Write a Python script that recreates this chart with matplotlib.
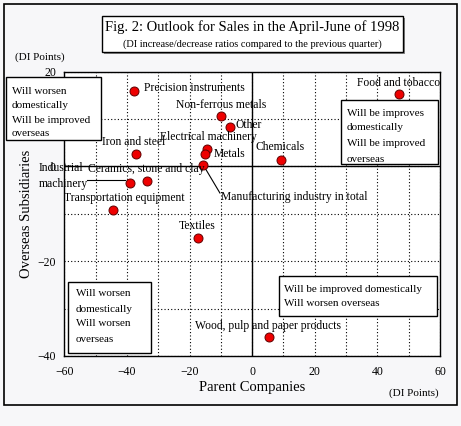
import matplotlib
matplotlib.use('Agg')
import matplotlib.pyplot as plt
from matplotlib.patches import Rectangle
from matplotlib.lines import Line2D

plt.rcParams['font.family'] = ['Liberation Serif', 'DejaVu Serif']

# data
industries = ['Precision instruments', 'Food and tobacco', 'Non-ferrous metals', 'Other',
              'Electrical machinery', 'Metals', 'Iron and steel', 'Chemicals',
              'Manufacturing industry in total', 'Industrial\nmachinery',
              'Ceramics, stone and clay', 'Transportation equipment', 'Textiles',
              'Wood, pulp and paper products']
parent = [-37.7, 46.9, -10.0, -7.1, -14.4, -15.0, -37.0, 9.1, -15.7, -38.9, -33.5, -44.6, -17.2, 5.4]
overseas = [16.0, 15.2, 10.6, 8.3, 3.7, 2.6, 2.6, 1.3, 0.4, -3.5, -3.1, -9.2, -15.2, -36.0]

# label anchor (left, centre) in data units
label_x = [-34.5, 33.6, -24.4, -5.4, -29.4, -12.3, -47.9, 1.1, -10.1, -68.1, -52.3, -60.0, -23.4, -18.3]
label_y = [16.6, 17.7, 13.0, 8.8, 6.2, 2.6, 5.2, 4.1, -6.4, -2.0, -0.6, -6.7, -12.6, -33.6]

x_ticks = [-60, -40, -20, 0, 20, 40, 60]
y_ticks = [-40, -20, 0, 20]

W, H = 461, 426
bg = '#f7f7f9'

def fx(px):
    return px / W

def fy(py):
    return 1 - py / H

fig = plt.figure(figsize=(W / 100, H / 100), dpi=100, facecolor=bg)

# outer frame
fig.patches.append(Rectangle((fx(4), fy(405)), fx(453), (405 - 4) / H, transform=fig.transFigure,
                             fill=False, edgecolor='black', linewidth=1.2))

ax = fig.add_axes([fx(64.3), fy(356), (440 - 64.3) / W, (356 - 71.7) / H])
ax.set_facecolor('white')
ax.set_xlim(-60, 60)
ax.set_ylim(-40, 20)
ax.set_xticks(x_ticks)
ax.set_yticks(y_ticks)
ax.set_xticks(range(-50, 60, 10), minor=True)
ax.set_yticks(range(-30, 20, 10), minor=True)
ax.tick_params(which='both', length=0, labelsize=8.5)
ax.tick_params(axis='x', pad=7)
ax.tick_params(axis='y', pad=6)
ax.grid(which='both', color='black', linestyle=(0, (1, 2)), linewidth=0.8)
ax.axhline(0, color='black', linewidth=1)
ax.axvline(0, color='black', linewidth=1)
for s in ax.spines.values():
    s.set_linewidth(1)

ax.scatter(parent, overseas, s=42, color='#ee0000', edgecolor='#600000', linewidth=0.7, zorder=5)

for name, lx, ly in zip(industries, label_x, label_y):
    ax.text(lx, ly, name, fontsize=8.4, ha='left', va='center', clip_on=False, zorder=6,
            linespacing=1.4)

# leader lines
ax.add_line(Line2D([-52.7, -40.6], [-2.85, -2.85], color='black', linewidth=0.8, clip_on=False))
ax.add_line(Line2D([-15.7, -10.3], [0.4, -5.6], color='black', linewidth=0.8, clip_on=False))

ax.set_xlabel('Parent Companies', fontsize=10.5, labelpad=2)
ax.set_ylabel('Overseas Subsidiaries', fontsize=10.5, labelpad=3)

fig.text(fx(15), fy(57), '(DI Points)', fontsize=8, ha='left', va='center')
fig.text(fx(439), fy(393), '(DI Points)', fontsize=8, ha='right', va='center')

# title box with shadow
fig.patches.append(Rectangle((fx(104), fy(54)), (403 - 102) / W, (52 - 16) / H, transform=fig.transFigure,
                             facecolor='#888888', edgecolor='none'))
fig.patches.append(Rectangle((fx(102), fy(52)), (403 - 102) / W, (52 - 16) / H, transform=fig.transFigure,
                             facecolor='white', edgecolor='black', linewidth=1))
fig.text(fx(252), fy(27), 'Fig. 2: Outlook for Sales in the April-June of 1998', fontsize=10.5,
         ha='center', va='center')
fig.text(fx(252), fy(44), '(DI increase/decrease ratios compared to the previous quarter)', fontsize=7.5,
         ha='center', va='center')

# quadrant boxes: (left, top, right, bottom) in pixels, text x, line ys, lines
boxes = [
    ((6, 77, 101, 140), 12, [91, 105, 120, 134],
     ['Will worsen', 'domestically', 'Will be improved', 'overseas']),
    ((341, 100, 438, 164), 347, [113, 128, 144, 159],
     ['Will be improves', 'domestically', 'Will be improved', 'overseas']),
    ((68, 282, 151, 353), 76, [294, 310, 324, 339],
     ['Will worsen', 'domestically', 'Will worsen', 'overseas']),
    ((279, 276, 437, 316), 284, [289, 304],
     ['Will be improved domestically', 'Will worsen overseas']),
]
for (l, t, r, b), tx, ys, lines in boxes:
    fig.patches.append(Rectangle((fx(l), fy(b)), (r - l) / W, (b - t) / H, transform=fig.transFigure,
                                 facecolor='white', edgecolor='black', linewidth=1, zorder=10))
    for yy, line in zip(ys, lines):
        fig.text(fx(tx), fy(yy), line, fontsize=8, ha='left', va='center', zorder=11)

fig.savefig('out.png', dpi=100, facecolor=bg)
